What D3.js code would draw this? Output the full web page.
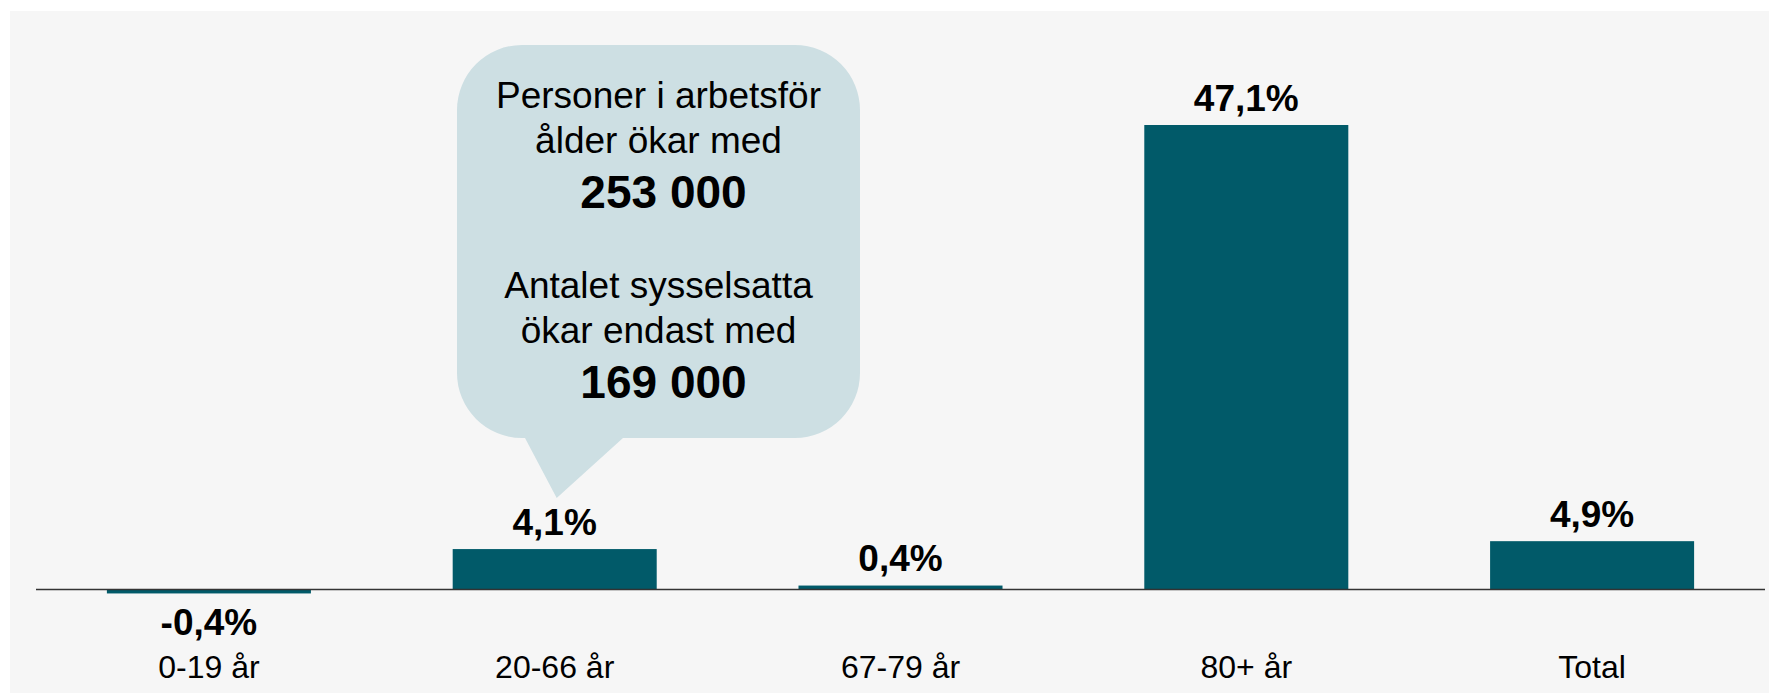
<!DOCTYPE html>
<html>
<head>
<meta charset="utf-8">
<script src="https://cdn.jsdelivr.net/npm/d3@7"></script>
<style>
    body { margin: 0; background: #ffffff; }
    #chart-area { width: 1769px; height: 693px; }
    text { font-family: "Liberation Sans", Arial, sans-serif; }
</style>
</head>
<body>
<div id="chart-area"></div>
<script>
// data (% change per age group)
let categories = ["0-19 år", "20-66 år", "67-79 år", "80+ år", "Total"];
let changes = [-0.4, 4.1, 0.4, 47.1, 4.9];

// callout text
let calloutTarget = "20-66 år";
let calloutLines1 = ["Personer i arbetsför", "ålder ökar med"];
let calloutValue1 = 253000;
let calloutLines2 = ["Antalet sysselsatta", "ökar endast med"];
let calloutValue2 = 169000;

let sv = d3.formatLocale({decimal: ",", thousands: " ", grouping: [3], currency: ["", " kr"], minus: "-"});

class ChangeBarChart {
    constructor(parentElement, categories, values) {
        this.parentElement = parentElement;
        this.categories = categories;
        this.values = values;

        this.initVis()
    }

    initVis(){
        let vis = this;

        vis.width = 1769;
        vis.height = 693;

        vis.svg = d3.select("#" + vis.parentElement).append("svg")
            .attr("width", vis.width)
            .attr("height", vis.height);

        // grey panel
        vis.svg.append("rect")
            .attr("x", 10)
            .attr("y", 11)
            .attr("width", vis.width - 10)
            .attr("height", vis.height - 11)
            .attr("fill", "#f6f6f6");

        vis.x = d3.scaleBand()
            .domain(vis.categories)
            .range([36, 1765])
            .paddingInner(0.41)
            .paddingOuter(0.205);

        vis.y = d3.scaleLinear()
            .domain([0, 47.1])
            .range([589.5, 125]);

        vis.fmtPct = v => sv.format(".1f")(v) + "%";

        vis.updateVis();
    }

    updateVis(){
        let vis = this;
        let data = vis.categories.map((c, i) => ({cat: c, value: vis.values[i]}));

        vis.svg.selectAll(".bar")
            .data(data)
            .enter()
            .append("rect")
            .attr("class", "bar")
            .attr("x", d => vis.x(d.cat))
            .attr("y", d => vis.y(Math.max(0, d.value)))
            .attr("width", vis.x.bandwidth())
            .attr("height", d => Math.abs(vis.y(d.value) - vis.y(0)))
            .attr("fill", "#015a69");

        // zero line
        vis.svg.append("line")
            .attr("x1", vis.x.range()[0])
            .attr("x2", vis.x.range()[1])
            .attr("y1", vis.y(0))
            .attr("y2", vis.y(0))
            .attr("stroke", "#333333")
            .attr("stroke-width", 1.5);

        vis.svg.selectAll(".value-label")
            .data(data)
            .enter()
            .append("text")
            .attr("class", "value-label")
            .attr("x", d => vis.x(d.cat) + vis.x.bandwidth() / 2)
            .attr("y", d => d.value >= 0 ? vis.y(d.value) - 14.5 : vis.y(d.value) + 42)
            .attr("text-anchor", "middle")
            .attr("font-size", "37px")
            .attr("font-weight", "bold")
            .attr("fill", "#000")
            .text(d => vis.fmtPct(d.value));

        vis.svg.selectAll(".cat-label")
            .data(data)
            .enter()
            .append("text")
            .attr("class", "cat-label")
            .attr("x", d => vis.x(d.cat) + vis.x.bandwidth() / 2)
            .attr("y", 678)
            .attr("text-anchor", "middle")
            .attr("font-size", "32px")
            .attr("fill", "#000")
            .text(d => d.cat);

        vis.drawCallout();
    }

    drawCallout(){
        let vis = this;

        let left = 457, right = 860, top = 45, bottom = 438, r = 65;
        let tipX = vis.x(calloutTarget) + vis.x.bandwidth() / 2 + 2;
        let tipY = 498;

        let p = d3.path();
        p.moveTo(left + r, top);
        p.lineTo(right - r, top);
        p.arcTo(right, top, right, top + r, r);
        p.lineTo(right, bottom - r);
        p.arcTo(right, bottom, right - r, bottom, r);
        p.lineTo(623, bottom);
        p.lineTo(tipX, tipY);
        p.lineTo(525, bottom);
        p.lineTo(left + r, bottom);
        p.arcTo(left, bottom, left, bottom - r, r);
        p.lineTo(left, top + r);
        p.arcTo(left, top, left + r, top, r);
        p.closePath();

        vis.svg.append("path")
            .attr("d", p.toString())
            .attr("fill", "#cddfe3");

        let cx = (left + right) / 2;
        let lines = [
            {t: calloutLines1[0], y: 108, bold: false},
            {t: calloutLines1[1], y: 153, bold: false},
            {t: sv.format(",d")(calloutValue1), y: 208, bold: true},
            {t: calloutLines2[0], y: 298, bold: false},
            {t: calloutLines2[1], y: 343, bold: false},
            {t: sv.format(",d")(calloutValue2), y: 398, bold: true}
        ];

        vis.svg.selectAll(".callout-text")
            .data(lines)
            .enter()
            .append("text")
            .attr("class", "callout-text")
            .attr("x", d => d.bold ? cx + 5 : cx)
            .attr("y", d => d.y)
            .attr("text-anchor", "middle")
            .attr("font-size", d => d.bold ? "46px" : "37px")
            .attr("font-weight", d => d.bold ? "bold" : "normal")
            .attr("fill", "#000")
            .text(d => d.t);
    }
}

new ChangeBarChart("chart-area", categories, changes);
</script>
</body>
</html>
